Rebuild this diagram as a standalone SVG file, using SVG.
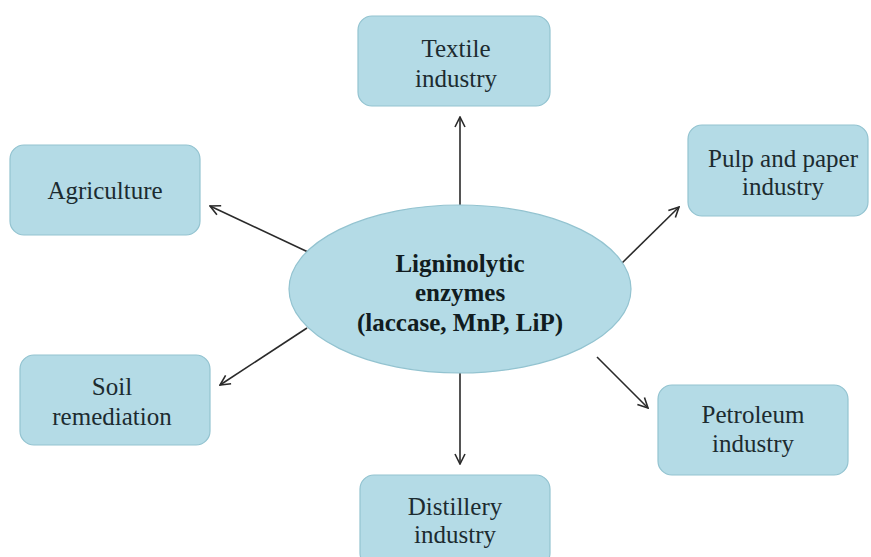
<svg xmlns="http://www.w3.org/2000/svg" width="871" height="557" viewBox="0 0 871 557">
<style>
.box{fill:#b4dbe6;stroke:#93c3d0;stroke-width:1.2}
.t{font-family:"Liberation Serif",serif;font-size:25px;fill:#1c2b30;text-anchor:middle}
.c{font-family:"Liberation Serif",serif;font-size:25px;font-weight:bold;fill:#111c20;text-anchor:middle}
.ln{stroke:#2a2a2a;stroke-width:1.6;fill:none;marker-end:url(#ah)}
</style>
<defs>
<marker id="ah" viewBox="0 0 12 12" refX="11" refY="6" markerWidth="12" markerHeight="12" markerUnits="userSpaceOnUse" orient="auto">
<path d="M1,1 L11,6 L1,11" fill="none" stroke="#2a2a2a" stroke-width="1.6"/>
</marker>
</defs>
<rect width="871" height="557" fill="#ffffff"/>
<g id="connectors">
<line class="ln" x1="460" y1="205" x2="460" y2="117"/>
<line class="ln" x1="308" y1="252" x2="210" y2="206"/>
<line class="ln" x1="620" y1="265" x2="679" y2="207"/>
<line class="ln" x1="307" y1="328" x2="220" y2="385"/>
<line class="ln" x1="597" y1="357" x2="648" y2="408"/>
<line class="ln" x1="460" y1="373" x2="460" y2="464"/>
</g>
<g id="center">
<ellipse cx="460" cy="289" rx="171" ry="84" class="box"/>
<text class="c" x="460" y="272">Ligninolytic</text>
<text class="c" x="460" y="301">enzymes</text>
<text class="c" x="460" y="331">(laccase, MnP, LiP)</text>
</g>
<g id="textile">
<rect x="358" y="16" width="192" height="90" rx="14" class="box"/>
<text class="t" x="456" y="57">Textile</text>
<text class="t" x="456" y="87">industry</text>
</g>
<g id="agriculture">
<rect x="10" y="145" width="190" height="90" rx="14" class="box"/>
<text class="t" x="105" y="199">Agriculture</text>
</g>
<g id="pulp">
<rect x="688" y="125" width="180" height="91" rx="14" class="box"/>
<text class="t" x="783" y="167">Pulp and paper</text>
<text class="t" x="783" y="195">industry</text>
</g>
<g id="soil">
<rect x="20" y="355" width="190" height="90" rx="14" class="box"/>
<text class="t" x="112" y="395">Soil</text>
<text class="t" x="112" y="425">remediation</text>
</g>
<g id="petroleum">
<rect x="658" y="385" width="190" height="90" rx="14" class="box"/>
<text class="t" x="753" y="423">Petroleum</text>
<text class="t" x="753" y="452">industry</text>
</g>
<g id="distillery">
<rect x="360" y="475" width="190" height="92" rx="14" class="box"/>
<text class="t" x="455" y="515">Distillery</text>
<text class="t" x="455" y="543">industry</text>
</g>
</svg>
